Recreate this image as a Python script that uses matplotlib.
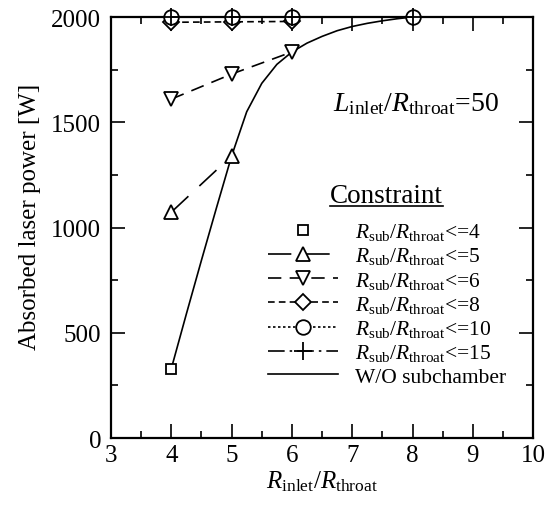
import matplotlib
matplotlib.use('Agg')
import matplotlib.pyplot as plt
from matplotlib.ticker import MultipleLocator
from matplotlib.lines import Line2D

plt.rcParams['font.family'] = 'Liberation Serif'
plt.rcParams['mathtext.fontset'] = 'custom'
plt.rcParams['mathtext.rm'] = 'Liberation Serif'
plt.rcParams['mathtext.it'] = 'Liberation Serif:italic'

# data
sub4_x = [4]
sub4_y = [330]
sub5_x = [4, 5]
sub5_y = [1073, 1340]
sub6_x = [4, 5, 6]
sub6_y = [1610, 1729, 1834]
sub8_x = [4, 5, 6]
sub8_y = [1975, 1977, 1979]
sub10_x = [4, 5, 6, 8]
sub10_y = [2000, 2000, 2000, 2000]
sub15_x = [4, 5, 6, 8]
sub15_y = [2000, 2000, 2000, 2000]
wo_x = [4.0, 4.25, 4.5, 4.75, 5.0, 5.25, 5.5, 5.75, 6.0, 6.25, 6.5, 6.75,
        7.0, 7.25, 7.5, 7.75, 8.0]
wo_y = [330, 590, 845, 1095, 1340, 1550, 1685, 1775, 1834, 1876, 1908,
        1935, 1955, 1970, 1982, 1992, 2000]

lab = r'$R_{\mathrm{sub}}/R_{\mathrm{throat}}$<='
lw = 1.2
mew = 1.3

fig = plt.figure(figsize=(5.54, 5.06), dpi=100)
ax = fig.add_axes([0.2004, 0.1324, 0.762, 0.832])

ax.plot(sub4_x, sub4_y, ls='none', marker='s', ms=7.5, mfc='white',
        mec='k', mew=mew, color='k', label=lab + '4', clip_on=False, zorder=5)
ax.plot(sub5_x, sub5_y, ls=(0, (14, 9)), lw=lw, marker='^', ms=10, mfc='white',
        mec='k', mew=mew, color='k', label=lab + '5', clip_on=False, zorder=5)
ax.plot(sub6_x, sub6_y, ls=(0, (8, 5)), lw=lw, marker='v', ms=10, mfc='white',
        mec='k', mew=mew, color='k', label=lab + '6', clip_on=False, zorder=5)
ax.plot(sub8_x, sub8_y, ls=(0, (4, 2.5)), lw=lw, marker='D', ms=8, mfc='white',
        mec='k', mew=mew, color='k', label=lab + '8', clip_on=False, zorder=5)
ax.plot(sub10_x, sub10_y, ls=(0, (1.5, 1.5)), lw=lw, marker='o', ms=10.5,
        mfc='white', mec='k', mew=mew, color='k', label=lab + '10',
        clip_on=False, zorder=6)
ax.plot(sub15_x, sub15_y, ls=(0, (10, 3, 1.5, 3)), lw=lw, marker='+', ms=13,
        mew=mew, color='k', label=lab + '15', clip_on=False, zorder=7)
ax.plot(wo_x, wo_y, ls='-', lw=lw, color='k', label='W/O subchamber', zorder=4)

ax.set_xlim(3, 10)
ax.set_ylim(0, 2000)
ax.xaxis.set_major_locator(MultipleLocator(1))
ax.xaxis.set_minor_locator(MultipleLocator(0.5))
ax.yaxis.set_major_locator(MultipleLocator(500))
ax.yaxis.set_minor_locator(MultipleLocator(250))
ax.tick_params(which='both', direction='in', top=True, right=True,
               width=1.2, labelsize=18)
ax.tick_params(which='major', length=10, pad=4)
ax.tick_params(axis='y', which='major', pad=7)
ax.tick_params(which='minor', length=5)
for s in ax.spines.values():
    s.set_linewidth(1.6)

ax.set_xlabel(r'$R_{\mathrm{inlet}}/R_{\mathrm{throat}}$', fontsize=18,
              labelpad=2)
ax.set_ylabel('Absorbed laser power [W]', fontsize=18)
ax.yaxis.set_label_coords(-0.166, 0.527)

ax.text(8.05, 1590, r'$L_{\mathrm{inlet}}/R_{\mathrm{throat}}$=50',
        fontsize=20, ha='center', va='center')

title = ax.text(0.652, 0.575, 'Constraint', transform=ax.transAxes,
                fontsize=19.5, ha='center', va='center')

leg = ax.legend(loc='upper left', bbox_to_anchor=(0.372, 0.515),
                frameon=False, fontsize=15.5, handlelength=3.25,
                handletextpad=0.8, labelspacing=0.15, borderpad=0,
                borderaxespad=0)

# underline the legend title
fig.canvas.draw()
tb = title.get_window_extent()
inv = fig.transFigure.inverted()
(x0, y0), (x1, y1) = inv.transform([(tb.x0, tb.y0 + 2), (tb.x1, tb.y0 + 2)])
fig.add_artist(Line2D([x0, x1], [y0, y1], transform=fig.transFigure,
                      color='k', lw=1.2))

fig.savefig('out.png', dpi=100)
